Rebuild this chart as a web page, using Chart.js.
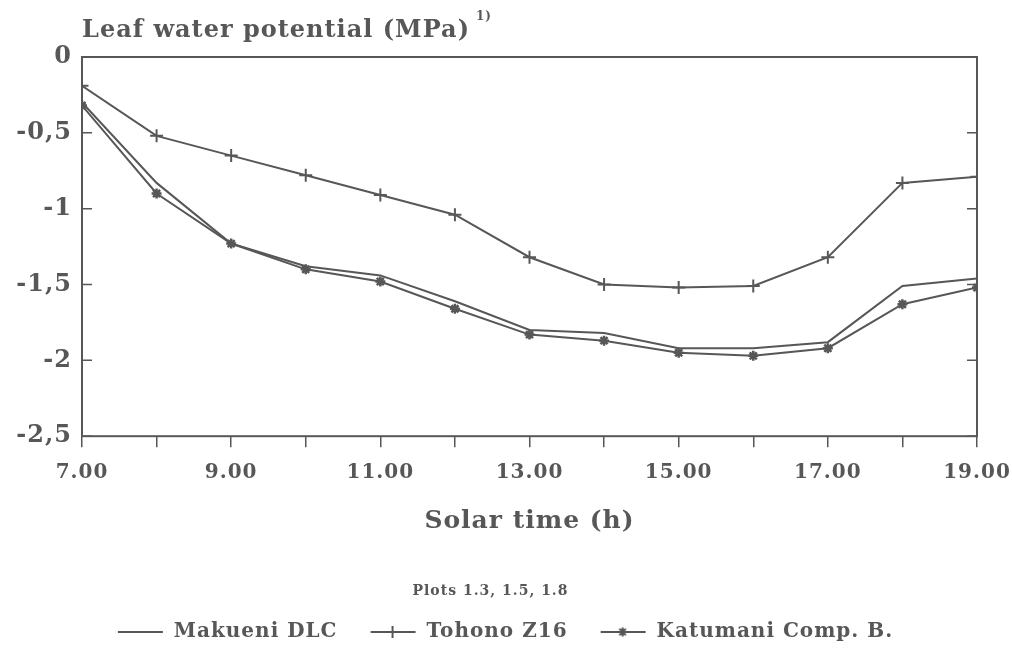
<!DOCTYPE html>
<html>
<head>
<meta charset="utf-8">
<script src="https://cdn.jsdelivr.net/npm/chart.js@4.4.1/dist/chart.umd.min.js"></script>
<style>
html,body{margin:0;padding:0;background:#fff;}
#wrap{width:1012px;height:652px;position:relative;}
</style>
</head>
<body>
<div id="wrap"><canvas id="c" width="1012" height="652"></canvas></div>
<script>
// ---- data ----
const hours = [7, 8, 9, 10, 11, 12, 13, 14, 15, 16, 17, 18, 19];
const makueniDLC = [-0.30, -0.83, -1.23, -1.38, -1.44, -1.61, -1.80, -1.82, -1.92, -1.92, -1.88, -1.51, -1.46];
const tohonoZ16  = [-0.19, -0.52, -0.65, -0.78, -0.91, -1.04, -1.32, -1.50, -1.52, -1.51, -1.32, -0.83, -0.79];
const katumaniB  = [-0.32, -0.90, -1.23, -1.40, -1.48, -1.66, -1.83, -1.87, -1.95, -1.97, -1.92, -1.63, -1.52];
const seriesNames = ['Makueni DLC', 'Tohono Z16', 'Katumani Comp. B.'];
const xLabeled = [7, 9, 11, 13, 15, 17, 19];
const yTitle = 'Leaf water potential (MPa)';
const yTitleNote = '1)';
const xTitle = 'Solar time (h)';
const plotsNote = 'Plots 1.3, 1.5, 1.8';

const INK = '#575757';
const FONT = '"DejaVu Serif", serif';

function legendImg(style) {
  const cv = document.createElement('canvas');
  cv.width = 76; cv.height = 16;
  const g = cv.getContext('2d');
  g.strokeStyle = INK; g.fillStyle = INK; g.lineWidth = 2;
  g.beginPath(); g.moveTo(30, 8); g.lineTo(75, 8); g.stroke();
  if (style === 'cross') {
    g.beginPath(); g.moveTo(52, 2); g.lineTo(52, 14); g.stroke();
  } else if (style === 'star') {
    Chart.helpers.drawPoint(g, {pointStyle: 'star', radius: 4.5, rotation: 0, borderWidth: 2.5}, 52, 8);
  }
  return cv;
}

const pts = arr => hours.map((h, i) => ({x: h, y: arr[i]}));

const spacingPlugin = {
  id: 'spacing',
  beforeLayout(chart) { chart.ctx.letterSpacing = '1px'; },
  beforeDraw(chart) { chart.ctx.letterSpacing = '1px'; }
};

const framePlugin = {
  id: 'frame',
  afterDatasetsDraw(chart) {
    const {ctx, chartArea: a, scales: {y}} = chart;
    ctx.save();
    ctx.strokeStyle = INK; ctx.lineWidth = 2;
    ctx.strokeRect(a.left, a.top, a.right - a.left, a.bottom - a.top);
    ctx.lineWidth = 1.5;
    y.ticks.forEach(t => {
      const py = y.getPixelForValue(t.value);
      ctx.beginPath();
      ctx.moveTo(a.left, py); ctx.lineTo(a.left + 10, py);
      ctx.moveTo(a.right, py); ctx.lineTo(a.right - 10, py);
      ctx.stroke();
    });
    ctx.restore();
  },
  afterDraw(chart) {
    const {ctx, chartArea: a} = chart;
    ctx.save();
    ctx.letterSpacing = '1px';
    ctx.fillStyle = INK;
    ctx.textBaseline = 'middle';
    ctx.font = 'bold 24px ' + FONT;
    ctx.fillText(yTitle, a.left, 31);
    const w = ctx.measureText(yTitle).width;
    ctx.font = 'bold 12px ' + FONT;
    ctx.fillText(yTitleNote, a.left + w + 6, 17);
    ctx.restore();
  }
};

new Chart(document.getElementById('c'), {
  type: 'line',
  data: {
    datasets: [
      {label: seriesNames[0], data: pts(makueniDLC), borderColor: INK, borderWidth: 2, pointRadius: 0, pointStyle: 'line', tension: 0},
      {label: seriesNames[1], data: pts(tohonoZ16), borderColor: INK, borderWidth: 2, pointStyle: 'cross', pointRadius: 6.5, pointBorderColor: INK, pointBorderWidth: 2, tension: 0},
      {label: seriesNames[2], data: pts(katumaniB), borderColor: INK, borderWidth: 2, pointStyle: 'star', pointRadius: 5, pointBorderColor: INK, pointBackgroundColor: INK, pointBorderWidth: 2.5, tension: 0}
    ]
  },
  options: {
    responsive: false,
    animation: false,
    devicePixelRatio: 1,
    layout: {padding: {top: 57, left: 4, right: 35, bottom: 0}},
    scales: {
      x: {
        type: 'linear', min: 7, max: 19,
        afterBuildTicks: s => { s.ticks = hours.map(h => ({value: h})); },
        afterFit: s => { s.height = 125; s.paddingLeft = 0; s.paddingRight = 0; },
        border: {display: false},
        grid: {drawOnChartArea: false, drawTicks: true, tickLength: 11, color: INK, lineWidth: 1.5},
        ticks: {
          color: INK, padding: 14, maxRotation: 0, autoSkip: false,
          font: {family: FONT, size: 20, weight: 'bold'},
          callback: v => xLabeled.includes(v) ? v.toFixed(2) : ''
        },
        title: {display: true, text: xTitle, color: INK, font: {family: FONT, size: 25, weight: 'bold'}, padding: {top: 8, bottom: 25}}
      },
      y: {
        min: -2.5, max: 0,
        afterFit: s => { s.width = 78; },
        border: {display: false},
        grid: {display: false, drawTicks: false},
        ticks: {
          stepSize: 0.5, color: INK, padding: 10,
          font: {family: FONT, size: 24, weight: 'bold'},
          callback: v => String(v).replace('.', ',')
        }
      }
    },
    plugins: {
      title: {display: true, text: plotsNote, position: 'bottom', weight: 500, color: INK,
        font: {family: FONT, size: 14, weight: 'bold'}, padding: {top: 22, bottom: 19}},
      legend: {
        position: 'bottom',
        labels: {
          color: INK, usePointStyle: true, pointStyleWidth: 76, boxHeight: 16, padding: 3,
          font: {family: FONT, size: 20, weight: 'bold'},
          generateLabels: chart => seriesNames.map((n, i) => ({
            text: n, datasetIndex: i, fontColor: INK,
            pointStyle: legendImg(['line', 'cross', 'star'][i]), lineWidth: 0, hidden: false
          }))
        }
      },
      tooltip: {enabled: false}
    }
  },
  plugins: [spacingPlugin, framePlugin]
});
</script>
</body>
</html>
